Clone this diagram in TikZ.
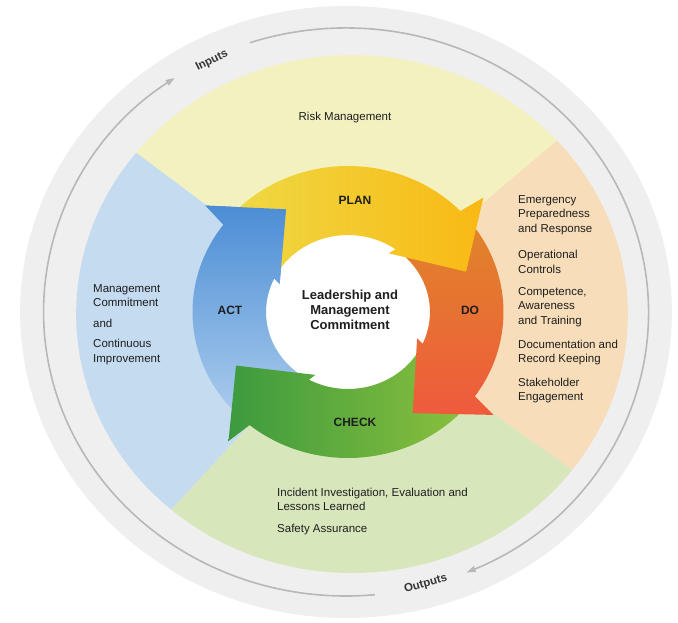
\documentclass[tikz,border=0pt]{standalone}
\usepackage{fontspec}
\setmainfont{Liberation Sans}
\usetikzlibrary{arrows.meta}
\definecolor{outerg}{HTML}{EFEFEF}
\definecolor{ringg}{HTML}{B8B8B8}
\definecolor{secY}{HTML}{F4F1C1}
\definecolor{secO}{HTML}{F7DDB9}
\definecolor{secG}{HTML}{D8E6BC}
\definecolor{secB}{HTML}{C4DBF0}
\definecolor{yA}{HTML}{EFD843}
\definecolor{yB}{HTML}{F9B914}
\definecolor{oA}{HTML}{E0842A}
\definecolor{oB}{HTML}{EF5A3C}
\definecolor{gA}{HTML}{3C9A3E}
\definecolor{gB}{HTML}{88BF3D}
\definecolor{bA}{HTML}{4B8DD5}
\definecolor{bB}{HTML}{A8CAEC}
\definecolor{txtc}{HTML}{1E1E1E}
\newcommand\cyclearrow[2]{(#2+15:146) arc[start angle={#2+15}, end angle={#1+23.75}, radius=146] -- (#1+22:171) -- (#1:118) -- (#1+37:70) -- (#1+34.6:77) arc[start angle={#1+34.6}, end angle={#2+25}, radius=77] -- cycle}
\tikzset{
  bodytxt/.style={font=\fontsize{11.5}{14.5}\selectfont, align=left, inner sep=0pt, text=txtc},
  cyclelbl/.style={font=\fontsize{12}{14}\selectfont\bfseries, inner sep=0pt, text=txtc},
  ringlbl/.style={font=\fontsize{11.5}{14}\selectfont\bfseries, inner sep=0pt, text=txtc!90},
  ringline/.style={draw=ringg, line width=1.6pt, -{Triangle[length=9pt,width=6pt]}}
}
\begin{document}
\begin{tikzpicture}[x=1pt,y=1pt]
\useasboundingbox (0,0) rectangle (678,622);
\fill[white] (0,0) rectangle (678,622);
\begin{scope}[shift={(346,310)}, xscale=1.065]
  % outer grey disk
  \fill[outerg] (0,0) circle[radius=306];
  % ring line with arrows
  \draw[ringline] (108.5:284) arc[start angle=108.5, end angle=-66.5, radius=284];
  \draw[ringline] (-84.5:284) arc[start angle=-84.5, end angle=-235.5, radius=284];
  \node[ringlbl, rotate=26.4] (inputs) at (116.6:281) {Inputs};
  \node[ringlbl, rotate=15.8] (outputs) at (-74.6:282) {Outputs};
\end{scope}
\begin{scope}[shift={(352,308)}, xscale=1.065]
  % coloured sectors
  \fill[secY] (0,0) -- (141.5:259) arc[start angle=141.5, end angle=42, radius=259] -- cycle;
  \fill[secO] (0,0) -- (42:259) arc[start angle=42, end angle=-37, radius=259] -- cycle;
  \fill[secG] (0,0) -- (-37:259) arc[start angle=-37, end angle=-131, radius=259] -- cycle;
  \fill[secB] (0,0) -- (-131:259) arc[start angle=-131, end angle=-218.5, radius=259] -- cycle;
\end{scope}
\begin{scope}[shift={(348,310)}, xscale=1.065]
  % white hole
  \fill[white] (0,0) circle[radius=77];
  % cycle arrows
  \shade[top color=bA, bottom color=bB] \cyclearrow{-240.5}{-153};
  \shade[left color=gA, right color=gB] \cyclearrow{-153}{-59};
  \shade[top color=oA, bottom color=oB] \cyclearrow{-59}{20};
  \shade[left color=yA, right color=yB] \cyclearrow{20}{119.5};
  \begin{scope}
    \clip (-240.5:118) -- (-203.5:70) -- (-218.5:171) -- cycle;
    \shade[top color=bA, bottom color=bB] \cyclearrow{-240.5}{-153};
  \end{scope}
\end{scope}
% texts
\node[bodytxt, anchor=center] (risk) at (345,504) {Risk Management};
\node[bodytxt, anchor=west] (emerg) at (518,407) {Emergency\\Preparedness\\and Response};
\node[bodytxt, anchor=west] (oper) at (518,360) {Operational\\Controls};
\node[bodytxt, anchor=west] (comp) at (518,315) {Competence,\\Awareness\\and Training};
\node[bodytxt, anchor=west] (docu) at (518,269.5) {Documentation and\\Record Keeping};
\node[bodytxt, anchor=west] (stake) at (518,231.5) {Stakeholder\\Engagement};
\node[bodytxt, anchor=west] (mgmt) at (93,326.5) {Management\\Commitment};
\node[bodytxt, anchor=west] (andl) at (93,299) {and};
\node[bodytxt, anchor=west] (cont) at (93,270) {Continuous\\Improvement};
\node[bodytxt, anchor=west] (incid) at (277,122.5) {Incident Investigation, Evaluation and\\Lessons Learned};
\node[bodytxt, anchor=west] (safety) at (277,92) {Safety Assurance};
\node[cyclelbl] (plan) at (355,422) {PLAN};
\node[cyclelbl] (act) at (230,312) {ACT};
\node[cyclelbl] (do) at (470,312) {DO};
\node[cyclelbl] (check) at (355,200) {CHECK};
\node[font=\fontsize{13}{15}\selectfont\bfseries, align=center, inner sep=0pt, text=txtc] (lead) at (350,312) {Leadership and\\Management\\Commitment};
\end{tikzpicture}
\end{document}
